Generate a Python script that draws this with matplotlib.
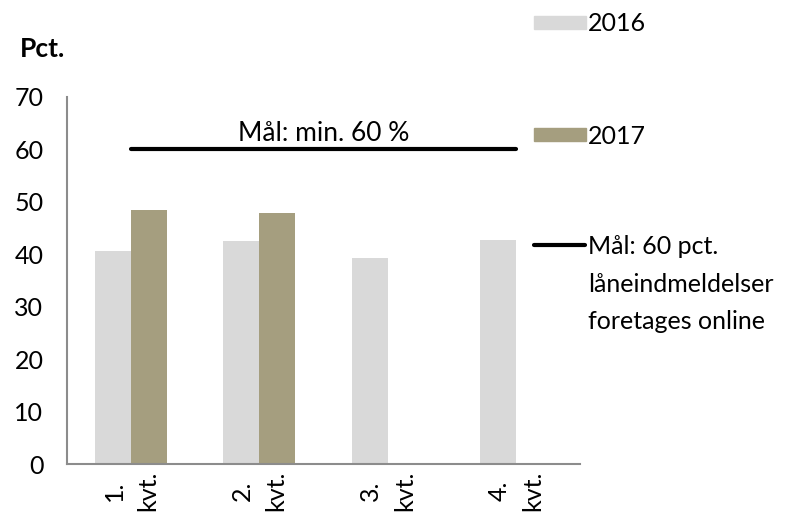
import numpy as np
import matplotlib
matplotlib.use('Agg')
import matplotlib.pyplot as plt
from matplotlib.lines import Line2D
from matplotlib.patches import Rectangle

plt.rcParams['font.family'] = ['Lato', 'DejaVu Sans']

# data
quarters = ['1.\nkvt.', '2.\nkvt.', '3.\nkvt.', '4.\nkvt.']
vals_2016 = [40.6, 42.5, 39.3, 42.7]
vals_2017 = [48.4, 47.9, np.nan, np.nan]
goal = 60
goal_label = 'Mål: min. 60 %'

col_2016 = '#d9d9d9'
col_2017 = '#a59e7f'
fs = 18

fig = plt.figure(figsize=(7.85, 5.2), dpi=100)
ax = fig.add_axes([67/785, 1 - 464/520, (580-67)/785, (464-97)/520])

x = np.arange(len(quarters))
w = 0.28
ax.bar(x - w/2, vals_2016, w, color=col_2016)
ax.bar(x + w/2, vals_2017, w, color=col_2017)

ax.plot([x[0], x[-1]], [goal, goal], color='black', lw=3, solid_capstyle='round')
ax.text((x[0] + x[-1]) / 2, 61.6, goal_label, ha='center', va='baseline', fontsize=19)

ax.set_xlim(-0.5, len(quarters) - 0.5)
ax.set_ylim(0, 70)
ax.set_yticks(range(0, 71, 10))
ax.set_xticks(x)
ax.set_xticklabels(quarters, rotation=90, fontsize=fs, linespacing=1.55,
                   multialignment='center')
ax.tick_params(axis='both', length=0, labelsize=fs)
ax.tick_params(axis='y', pad=17)
ax.tick_params(axis='x', pad=5)
for s in ['top', 'right']:
    ax.spines[s].set_visible(False)
for s in ['left', 'bottom']:
    ax.spines[s].set_color('#8c8c8c')
    ax.spines[s].set_linewidth(1.5)

fig.text(20/785, 1 - 57/520, 'Pct.', fontsize=19, fontweight='bold', va='baseline')

# legend on the right, drawn by hand
def px(xp, yp):
    return xp / 785, 1 - yp / 520

fig.patches.append(Rectangle(px(534, 29), 52/785, 13/520, color=col_2016, transform=fig.transFigure))
fig.text(*px(588, 31), '2016', fontsize=fs, va='baseline')
fig.patches.append(Rectangle(px(534, 141), 52/785, 13/520, color=col_2017, transform=fig.transFigure))
fig.text(*px(588, 144), '2017', fontsize=fs, va='baseline')
fig.lines.append(Line2D([534/785, 585/785], [1 - 245/520] * 2, color='black', lw=3,
                        solid_capstyle='round', transform=fig.transFigure))
for i, line in enumerate(['Mål: 60 pct.', 'låneindmeldelser', 'foretages online']):
    fig.text(*px(588, 254 + 37.5 * i), line, fontsize=fs, va='baseline')

fig.savefig('out.png', dpi=100)
